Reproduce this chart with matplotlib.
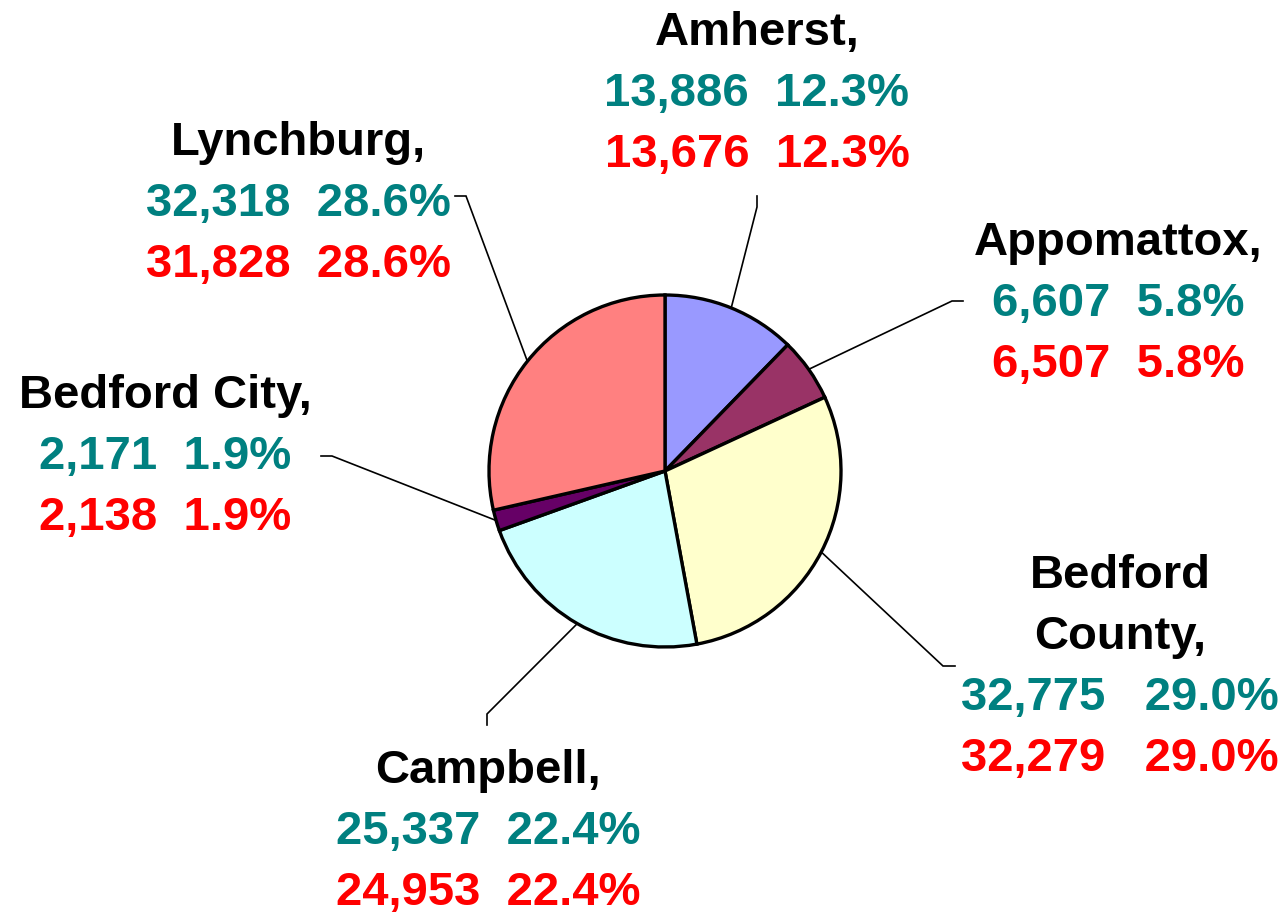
import matplotlib
matplotlib.use("Agg")
import matplotlib.pyplot as plt
import numpy as np

# data (clockwise from 12 o'clock)
names = ["Amherst,", "Appomattox,", "Bedford\nCounty,", "Campbell,", "Bedford City,", "Lynchburg,"]
values_a = [13886, 6607, 32775, 25337, 2171, 32318]   # teal series (drawn)
values_b = [13676, 6507, 32279, 24953, 2138, 31828]   # red series
colors = ["#9999FF", "#993366", "#FFFFCC", "#CCFFFF", "#660066", "#FF8080"]

# layout in pixels (y measured from top)
W, H = 1287, 913
cx, cy, r = 665, 471, 176
label_x = [757, 1118, 1120, 488, 165, 298]
label_top = [45, 255, 588, 783, 408, 155]      # baseline of first text line
gaps = ["  ", "  ", "   ", "  ", "  ", "  "]
elbows = [(757, 207), (952, 301), (943, 666), (487, 714), (332, 456), (466, 196)]
ends = [(757, 196), (963, 301), (955, 666), (487, 725), (321, 456), (455, 196)]

plt.rcParams['font.family'] = ['Liberation Sans', 'DejaVu Sans']
fig = plt.figure(figsize=(W / 100, H / 100), dpi=100)
ax = fig.add_axes([0, 0, 1, 1])

wedges, _ = ax.pie(values_a, colors=colors, startangle=90, counterclock=False,
                   center=(cx, H - cy), radius=r,
                   wedgeprops=dict(edgecolor="black", linewidth=2.4))
ax.set_xlim(0, W)
ax.set_ylim(0, H)
ax.set_aspect("equal")
ax.axis("off")

tot_a = sum(values_a)
tot_b = sum(values_b)
pitch = 61
fs = 34
for i, w in enumerate(wedges):
    # leader line from wedge edge at mid angle
    mid = np.deg2rad((w.theta1 + w.theta2) / 2)
    sx = cx + r * np.cos(mid)
    sy = (H - cy) + r * np.sin(mid)
    ex, ey = elbows[i]
    fx, fy = ends[i]
    ax.plot([sx, ex, fx], [sy, H - ey, H - fy], color="black", lw=1.2,
            solid_joinstyle="miter", zorder=0.5)

    lines = names[i].split("\n")
    y = H - label_top[i]
    for ln in lines:
        ax.text(label_x[i], y, ln, ha="center", va="baseline", fontsize=fs,
                fontweight="bold", color="black")
        y -= pitch
    ta = f"{values_a[i]:,}{gaps[i]}{values_a[i] / tot_a * 100:.1f}%"
    tb = f"{values_b[i]:,}{gaps[i]}{values_b[i] / tot_b * 100:.1f}%"
    ax.text(label_x[i], y, ta, ha="center", va="baseline", fontsize=fs,
            fontweight="bold", color="#008080")
    y -= pitch
    ax.text(label_x[i], y, tb, ha="center", va="baseline", fontsize=fs,
            fontweight="bold", color="#FF0000")

fig.savefig("out.png", dpi=100)
